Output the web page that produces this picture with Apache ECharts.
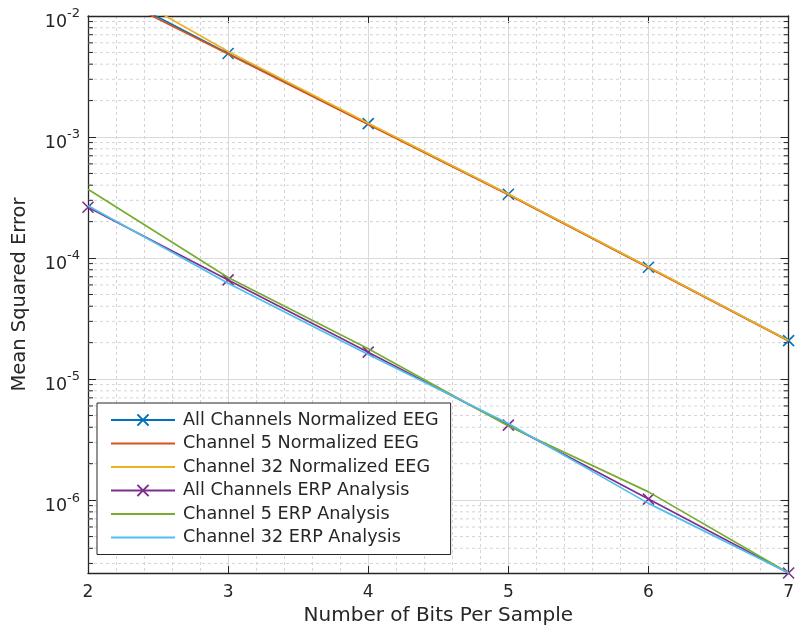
<!DOCTYPE html>
<html>
<head>
<meta charset="utf-8">
<script src="https://cdn.jsdelivr.net/npm/echarts@6/dist/echarts.min.js"></script>
<style>
html,body{margin:0;padding:0;background:#fff;}
#chart{width:797px;height:632px;}
</style>
</head>
<body>
<div id="chart"></div>
<script>
// ---- data ----
const bits = [2, 3, 4, 5, 6, 7];
const eegAll  = [1.95e-2, 4.9e-3, 1.29e-3, 3.37e-4, 8.4e-5, 2.08e-5];
const eegCh5  = [1.84e-2, 4.85e-3, 1.27e-3, 3.33e-4, 8.3e-5, 2.06e-5];
const eegCh32 = [2.3e-2, 5.1e-3, 1.3e-3, 3.38e-4, 8.45e-5, 2.08e-5];
const erpAll  = [2.63e-4, 6.6e-5, 1.67e-5, 4.17e-6, 1.02e-6, 2.5e-7];
const erpCh5  = [3.7e-4, 6.9e-5, 1.78e-5, 4.1e-6, 1.17e-6, 2.5e-7];
const erpCh32 = [2.7e-4, 6.2e-5, 1.6e-5, 4.3e-6, 9.4e-7, 2.5e-7];
const seriesNames = [
  'All Channels Normalized EEG',
  'Channel 5 Normalized EEG',
  'Channel 32 Normalized EEG',
  'All Channels ERP Analysis',
  'Channel 5 ERP Analysis',
  'Channel 32 ERP Analysis'
];
const yMin = 2.5e-7, yMax = 1e-2;
const xMin = 2, xMax = 7;
const xTitle = 'Number of Bits Per Sample';
const yTitle = 'Mean Squared Error';
// minor log ticks (2..9 per decade)
const minorMultipliers = [2, 3, 4, 5, 6, 7, 8, 9];
const decades = [-7, -6, -5, -4, -3];

// ---- build ----
const colors = ['#0072BD', '#D95319', '#EDB120', '#7E2F8E', '#77AC30', '#4DBEEE'];
const values = [eegAll, eegCh5, eegCh32, erpAll, erpCh5, erpCh32];
const withMarker = [true, false, false, true, false, false];
const FONT = 'DejaVu Sans';
const TXT = '#262626';
const xPath = 'path://M0,0L10,10M10,0L0,10';

const minorVals = [];
decades.forEach(d => minorMultipliers.forEach(m => {
  const v = m * Math.pow(10, d);
  if (v > yMin && v < yMax) minorVals.push([xMin, v]);
}));

const series = [{
  type: 'custom',
  name: 'minor',
  z: 1,
  silent: true,
  clip: false,
  data: minorVals,
  renderItem: function (params, api) {
    const v = api.value(1);
    const p0 = api.coord([xMin, v]);
    const p1 = api.coord([xMax, v]);
    return {
      type: 'group',
      children: [
        {type: 'line', shape: {x1: p0[0], y1: p0[1], x2: p1[0], y2: p1[1]},
         style: {stroke: '#d4d4d4', lineWidth: 1, lineDash: [3, 3]}},
        {type: 'line', shape: {x1: p0[0], y1: p0[1], x2: p0[0] + 5, y2: p0[1]},
         style: {stroke: TXT, lineWidth: 1}},
        {type: 'line', shape: {x1: p1[0] - 5, y1: p1[1], x2: p1[0], y2: p1[1]},
         style: {stroke: TXT, lineWidth: 1}}
      ]
    };
  }
}];

seriesNames.forEach((n, i) => {
  series.push({
    type: 'line',
    name: n,
    z: 3 + i,
    data: bits.map((b, k) => [b, values[i][k]]),
    showSymbol: withMarker[i],
    symbol: withMarker[i] ? xPath : 'none',
    symbolSize: 11,
    lineStyle: {color: colors[i], width: 1.7},
    itemStyle: {color: colors[i], borderColor: colors[i], borderWidth: 1.6},
    emphasis: {disabled: true},
    animation: false
  });
});

const legendData = seriesNames.map((n, i) => withMarker[i]
  ? {name: n}
  : {name: n, itemStyle: {opacity: 0}});

const chart = echarts.init(document.getElementById('chart'), null, {renderer: 'canvas'});
chart.setOption({
  animation: false,
  backgroundColor: '#fff',
  grid: {left: 88, right: 6, top: 16, bottom: 59, containLabel: false},
  legend: {
    data: legendData,
    orient: 'vertical',
    left: 97, top: 403,
    itemWidth: 64, itemHeight: 14, itemGap: 3.5,
    padding: [7, 12, 7, 13],
    backgroundColor: '#fff',
    borderColor: '#262626', borderWidth: 1,
    selectedMode: false,
    textStyle: {fontFamily: FONT, fontSize: 17.6, color: TXT, lineHeight: 20, padding: [0, 0, 0, 3]}
  },
  xAxis: [{
    type: 'value', min: xMin, max: xMax, interval: 1,
    name: xTitle, nameLocation: 'middle', nameGap: 33,
    nameTextStyle: {fontFamily: FONT, fontSize: 20, color: TXT},
    axisLine: {show: true, onZero: false, lineStyle: {color: TXT, width: 1.3}},
    axisTick: {show: true, inside: true, length: 7, lineStyle: {color: TXT}},
    axisLabel: {fontFamily: FONT, fontSize: 17, color: TXT, margin: 11},
    splitLine: {show: true, lineStyle: {color: '#dadada', width: 1}},
    minorTick: {show: false, splitNumber: 5},
    minorSplitLine: {show: true, lineStyle: {color: '#d4d4d4', width: 1, type: [3, 3]}}
  }, {
    type: 'value', min: xMin, max: xMax, interval: 1, position: 'top',
    axisLine: {show: true, onZero: false, lineStyle: {color: TXT, width: 1.3}},
    axisTick: {show: true, inside: true, length: 7, lineStyle: {color: TXT}},
    axisLabel: {show: false},
    splitLine: {show: false}
  }],
  yAxis: [{
    type: 'log', logBase: 10, min: yMin, max: yMax,
    name: yTitle, nameLocation: 'middle', nameGap: 58,
    nameTextStyle: {fontFamily: FONT, fontSize: 19.5, color: TXT},
    axisLine: {show: true, onZero: false, lineStyle: {color: TXT, width: 1.3}},
    axisTick: {show: true, inside: true, length: 8, lineStyle: {color: TXT}},
    splitLine: {show: true, lineStyle: {color: '#dadada', width: 1}},
    axisLabel: {
      showMinLabel: false,
      margin: 8,
      padding: [7, 0, 0, 0],
      formatter: function (v) {
        const e = Math.round(Math.log10(v));
        return '{b|10}{s|' + e + '}';
      },
      rich: {
        b: {fontFamily: FONT, fontSize: 17.5, color: TXT, lineHeight: 24, verticalAlign: 'bottom'},
        s: {fontFamily: FONT, fontSize: 13, color: TXT, lineHeight: 13, verticalAlign: 'top'}
      }
    }
  }, {
    type: 'log', logBase: 10, min: yMin, max: yMax, position: 'right',
    axisLine: {show: true, onZero: false, lineStyle: {color: TXT, width: 1.3}},
    axisTick: {show: true, inside: true, length: 8, lineStyle: {color: TXT}},
    axisLabel: {show: false},
    splitLine: {show: false}
  }],
  series: series
});
</script>
</body>
</html>
